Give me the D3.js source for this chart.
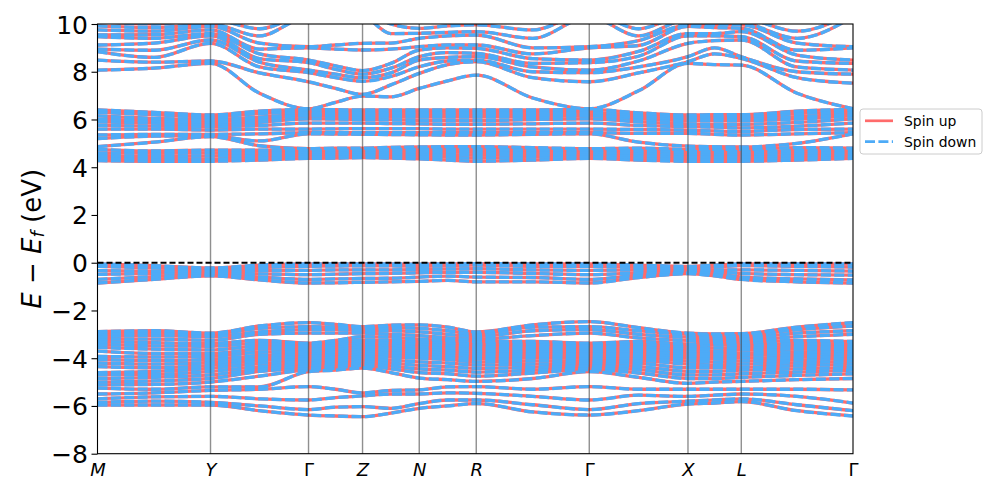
<!DOCTYPE html>
<html><head><meta charset="utf-8">
<script src="https://cdn.jsdelivr.net/npm/d3@7"></script>
<style>body{margin:0;background:#fff;} text{font-family:"DejaVu Sans",sans-serif;}</style>
</head><body>
<script>
// ---- data ----
const kLabels = ["M","Y","Γ","Z","N","R","Γ","X","L","Γ"];
const kDist = [0, 1.130, 2.110, 2.650, 3.217, 3.787, 4.917, 5.904, 6.437, 7.554];
// sampled k positions: high-symmetry points and segment midpoints
const kSample = [0, 0.565, 1.130, 1.620, 2.110, 2.380, 2.650, 2.933, 3.217, 3.502, 3.787, 4.352, 4.917, 5.410, 5.904, 6.170, 6.437, 6.995, 7.554];
const yTicks = [-8,-6,-4,-2,0,2,4,6,8,10];
const seriesNames = ["Spin up","Spin down"];

// energies (eV) at each sampled k, lowest band first
const valenceDeepE = [
 [-5.96,-5.85,-5.7,-5.5,-5.25,-5.12,-5.0,-4.85,-4.7,-4.6,-4.35,-4.2,-4.05,-3.92,-3.7,-3.55,-3.42,-3.3,-3.2,-3.1,-3.0,-2.89],
 [-5.96,-5.8,-5.62,-5.45,-5.3,-5.1,-4.95,-4.8,-4.68,-4.55,-4.4,-4.25,-4.1,-3.95,-3.8,-3.62,-3.48,-3.35,-3.2,-3.05,-2.95,-2.85],
 [-5.96,-5.85,-5.6,-5.35,-5.2,-5.0,-4.85,-4.7,-4.55,-4.42,-4.3,-4.18,-4.05,-3.92,-3.8,-3.65,-3.5,-3.38,-3.25,-3.1,-3.0,-2.95],
 [-6.2,-6.0,-5.7,-5.3,-5.2,-4.75,-4.55,-4.45,-4.35,-4.22,-4.1,-4.0,-3.88,-3.75,-3.62,-3.5,-3.38,-3.25,-3.0,-2.9,-2.75,-2.65],
 [-6.38,-6.15,-5.75,-5.19,-4.56,-4.48,-4.4,-4.3,-4.2,-4.1,-4.0,-3.9,-3.8,-3.7,-3.6,-3.5,-3.42,-3.37,-2.95,-2.8,-2.68,-2.51],
 [-6.42,-6.05,-5.65,-5.3,-4.5,-4.42,-4.32,-4.22,-4.12,-4.02,-3.92,-3.82,-3.72,-3.62,-3.52,-3.42,-3.32,-3.25,-2.95,-2.8,-2.7,-2.58],
 [-6.45,-6.03,-5.58,-5.45,-4.41,-4.3,-4.2,-4.1,-4.0,-3.9,-3.8,-3.7,-3.6,-3.5,-3.4,-3.32,-3.24,-3.1,-2.95,-2.85,-2.75,-2.68],
 [-6.3,-6.1,-5.5,-5.35,-4.6,-4.45,-4.32,-4.2,-4.08,-3.95,-3.85,-3.75,-3.65,-3.55,-3.45,-3.35,-3.25,-3.12,-3.0,-2.85,-2.72,-2.62],
 [-6.1,-5.9,-5.5,-5.33,-4.83,-4.6,-4.45,-4.3,-4.15,-4.0,-3.9,-3.8,-3.7,-3.6,-3.5,-3.4,-3.3,-3.2,-3.05,-2.9,-2.75,-2.6],
 [-6.0,-5.75,-5.45,-5.2,-4.9,-4.65,-4.5,-4.35,-4.2,-4.05,-3.95,-3.85,-3.75,-3.65,-3.55,-3.45,-3.35,-3.25,-3.15,-3.0,-2.85,-2.7],
 [-5.9,-5.75,-5.47,-5.19,-4.97,-4.75,-4.58,-4.42,-4.28,-4.15,-4.02,-3.9,-3.8,-3.7,-3.6,-3.5,-3.4,-3.3,-3.2,-3.1,-3.0,-2.9],
 [-6.25,-5.95,-5.6,-5.3,-4.85,-4.62,-4.5,-4.38,-4.25,-4.12,-4.0,-3.9,-3.8,-3.7,-3.6,-3.5,-3.4,-3.3,-3.05,-2.85,-2.7,-2.6],
 [-6.38,-6.15,-5.75,-5.19,-4.56,-4.48,-4.4,-4.3,-4.2,-4.1,-4.0,-3.9,-3.8,-3.7,-3.6,-3.5,-3.42,-3.37,-2.95,-2.8,-2.68,-2.47],
 [-6.2,-5.9,-5.55,-5.3,-4.8,-4.62,-4.48,-4.35,-4.22,-4.1,-4.0,-3.9,-3.8,-3.7,-3.6,-3.5,-3.4,-3.3,-3.15,-3.0,-2.85,-2.72],
 [-5.92,-5.8,-5.6,-5.3,-5.05,-4.85,-4.7,-4.55,-4.4,-4.25,-4.12,-4.0,-3.9,-3.8,-3.7,-3.6,-3.5,-3.4,-3.25,-3.12,-3.0,-2.95],
 [-5.88,-5.75,-5.55,-5.3,-5.0,-4.85,-4.7,-4.55,-4.4,-4.28,-4.15,-4.02,-3.9,-3.8,-3.7,-3.58,-3.45,-3.35,-3.25,-3.15,-3.05,-2.98],
 [-5.82,-5.7,-5.5,-5.3,-4.97,-4.8,-4.65,-4.5,-4.38,-4.25,-4.12,-4.0,-3.88,-3.78,-3.65,-3.55,-3.45,-3.35,-3.25,-3.15,-3.05,-2.97],
 [-6.2,-5.95,-5.6,-5.3,-4.9,-4.72,-4.58,-4.45,-4.32,-4.2,-4.08,-3.96,-3.85,-3.74,-3.62,-3.5,-3.38,-3.25,-3.1,-2.95,-2.8,-2.7],
 [-6.42,-6.2,-5.88,-5.33,-4.85,-4.65,-4.5,-4.38,-4.25,-4.12,-4.0,-3.9,-3.8,-3.7,-3.6,-3.5,-3.4,-3.3,-3.0,-2.85,-2.65,-2.51]
];
const valenceTopE = [
 [-0.85,-0.7,-0.49,-0.33,-0.15,-0.05],
 [-0.7,-0.58,-0.45,-0.35,-0.22,-0.12],
 [-0.55,-0.48,-0.4,-0.33,-0.27,-0.22],
 [-0.72,-0.6,-0.47,-0.33,-0.2,-0.1],
 [-0.85,-0.7,-0.5,-0.32,-0.15,-0.05],
 [-0.84,-0.68,-0.48,-0.3,-0.14,-0.05],
 [-0.82,-0.66,-0.46,-0.3,-0.13,-0.05],
 [-0.8,-0.65,-0.45,-0.3,-0.13,-0.05],
 [-0.78,-0.6,-0.42,-0.28,-0.15,-0.06],
 [-0.74,-0.56,-0.4,-0.26,-0.12,-0.05],
 [-0.8,-0.6,-0.4,-0.25,-0.1,-0.04],
 [-0.8,-0.62,-0.45,-0.3,-0.15,-0.05],
 [-0.85,-0.7,-0.5,-0.32,-0.15,-0.05],
 [-0.62,-0.52,-0.42,-0.3,-0.2,-0.1],
 [-0.46,-0.42,-0.36,-0.3,-0.22,-0.15],
 [-0.55,-0.47,-0.38,-0.3,-0.18,-0.1],
 [-0.7,-0.6,-0.45,-0.3,-0.12,-0.05],
 [-0.8,-0.68,-0.5,-0.32,-0.15,-0.05],
 [-0.85,-0.72,-0.52,-0.35,-0.18,-0.05]
];
const conductionE = [
 [4.28,4.38,4.5,4.6,4.75,4.86,5.2,5.35,5.6,5.75,5.9,6.0,6.15,6.3,6.4],
 [4.25,4.35,4.45,4.58,4.68,5.05,5.3,5.38,5.6,5.72,5.85,5.95,6.05,6.2,6.3],
 [4.25,4.35,4.48,4.6,4.72,5.28,5.32,5.38,5.56,5.7,5.8,5.9,6.0,6.1,6.19],
 [4.3,4.4,4.5,4.62,4.72,4.9,5.1,5.4,5.6,5.75,5.88,6.0,6.1,6.25,6.35],
 [4.37,4.45,4.55,4.63,4.72,4.78,5.4,5.45,5.6,5.85,6.03,6.15,6.2,6.3,6.42],
 [4.38,4.47,4.56,4.64,4.72,4.8,5.39,5.45,5.61,5.85,6.02,6.13,6.2,6.3,6.41],
 [4.4,4.5,4.58,4.65,4.72,4.8,5.38,5.45,5.62,5.85,6.0,6.12,6.2,6.3,6.4],
 [4.38,4.48,4.57,4.66,4.75,4.83,5.37,5.45,5.62,5.83,5.98,6.1,6.2,6.3,6.4],
 [4.35,4.45,4.55,4.65,4.75,4.85,5.36,5.45,5.62,5.82,5.96,6.1,6.2,6.3,6.4],
 [4.3,4.42,4.53,4.63,4.75,4.86,5.35,5.45,5.6,5.8,5.95,6.1,6.2,6.3,6.4],
 [4.25,4.38,4.5,4.62,4.75,4.86,5.35,5.45,5.6,5.8,5.95,6.1,6.2,6.3,6.4],
 [4.3,4.42,4.52,4.62,4.72,4.82,5.38,5.45,5.6,5.82,6.0,6.12,6.2,6.3,6.4],
 [4.37,4.45,4.55,4.63,4.72,4.78,5.4,5.45,5.6,5.85,6.03,6.15,6.2,6.3,6.42],
 [4.3,4.4,4.5,4.6,4.7,4.8,5.05,5.42,5.58,5.75,5.9,6.02,6.1,6.18,6.28],
 [4.25,4.35,4.45,4.55,4.65,4.75,4.88,5.42,5.55,5.7,5.82,5.95,6.05,6.12,6.19],
 [4.25,4.35,4.45,4.55,4.65,4.75,4.86,5.38,5.52,5.68,5.8,5.95,6.05,6.12,6.2],
 [4.25,4.35,4.45,4.55,4.65,4.75,4.85,5.35,5.5,5.65,5.8,5.95,6.05,6.12,6.2],
 [4.3,4.4,4.5,4.6,4.7,4.82,5.0,5.4,5.58,5.72,5.88,6.02,6.12,6.25,6.35],
 [4.37,4.45,4.55,4.63,4.72,4.8,5.4,5.45,5.6,5.85,6.03,6.15,6.22,6.32,6.42]
];
const upperE = [
 [8.07,8.49,8.84,8.95,9.12,9.47,9.54,9.75,9.92,10.1,10.3,10.5],
 [8.15,8.4,8.6,8.9,9.2,9.4,9.55,9.7,9.85,10.0,10.2,10.4],
 [8.35,8.45,9.19,9.33,9.5,9.6,9.75,9.9,10.0,10.2,10.4,10.6],
 [7.1,7.95,8.2,8.4,8.55,8.75,8.95,9.2,9.5,9.8,10.1,10.3],
 [6.45,7.58,7.96,8.07,8.38,8.49,9.0,9.05,10.3,10.5,10.7,10.9],
 [6.72,7.3,7.75,7.9,8.1,8.25,8.95,9.12,10.3,10.6,10.8,11.0],
 [6.98,7.05,7.6,7.75,7.9,8.05,8.91,9.19,10.3,10.6,10.8,11.0],
 [6.95,7.45,7.8,7.95,8.15,8.35,8.95,9.2,9.6,10.0,10.4,10.7],
 [7.3,7.93,8.21,8.49,8.63,8.91,9.05,9.4,9.61,9.82,10.2,10.5],
 [7.62,8.3,8.45,8.6,8.8,9.0,9.12,9.5,9.65,9.92,10.3,10.6],
 [7.86,8.42,8.49,8.63,8.77,8.98,9.12,9.54,9.68,9.96,10.3,10.6],
 [6.9,7.75,8.0,8.2,8.35,8.55,8.75,9.0,9.4,9.75,10.2,10.5],
 [6.45,7.58,7.96,8.07,8.38,8.49,9.0,9.05,10.3,10.5,10.7,10.9],
 [7.2,7.95,8.2,8.45,8.65,8.85,9.1,9.3,9.5,9.8,10.2,10.5],
 [8.35,8.42,8.63,9.19,9.5,9.6,9.9,9.96,10.2,10.4,10.6,10.8],
 [8.3,8.75,9.0,9.3,9.5,9.6,9.85,9.96,10.2,10.4,10.6,10.8],
 [8.28,8.56,8.63,9.33,9.47,9.68,9.82,9.96,10.1,10.3,10.5,10.7],
 [7.1,7.75,8.0,8.2,8.45,8.7,8.9,9.2,9.4,9.7,10.1,10.4],
 [6.45,7.52,7.9,8.07,8.35,8.49,9.0,9.05,10.3,10.5,10.7,10.9]
];

// ---- drawing ----
const W = 997, H = 498;
const L = 97.5, R = 853, T = 24, B = 453.7;
const LW = 3.3, DASH = "10,3.4";
const x = d3.scaleLinear().domain([kDist[0], kDist[kDist.length-1]]).range([L, R]);
const y = d3.scaleLinear().domain([-8, 10]).range([B, T]);

const svg = d3.select("body").append("svg").attr("width", W).attr("height", H);
svg.append("defs").append("clipPath").attr("id","clip")
  .append("rect").attr("x", L).attr("y", T).attr("width", R-L).attr("height", B-T);

const bands = [valenceDeepE, valenceTopE, conductionE, upperE].flatMap(g => d3.transpose(g));
const line = d3.line().x((d,i) => x(kSample[i])).y(d => y(d)).curve(d3.curveMonotoneX);

const plot = svg.append("g").attr("clip-path","url(#clip)");
plot.selectAll("path.up").data(bands).join("path").attr("class","up")
  .attr("d", line).attr("fill","none").attr("stroke","#ff6b6b").attr("stroke-width",LW);
plot.selectAll("path.dn").data(bands).join("path").attr("class","dn")
  .attr("d", line).attr("fill","none").attr("stroke","#4dabf7").attr("stroke-width",LW)
  .attr("stroke-dasharray",DASH);

// high-symmetry vertical lines
svg.append("g").selectAll("line").data(kDist.slice(1,-1)).join("line")
  .attr("x1", d => x(d)).attr("x2", d => x(d)).attr("y1", T).attr("y2", B)
  .attr("stroke","#444").attr("stroke-opacity",0.6).attr("stroke-width",1.4);

// Fermi level
svg.append("line").attr("x1", L).attr("x2", R).attr("y1", y(0)).attr("y2", y(0))
  .attr("stroke","#000").attr("stroke-width",2).attr("stroke-dasharray","6,3");

// frame
svg.append("rect").attr("x", L).attr("y", T).attr("width", R-L).attr("height", B-T)
  .attr("fill","none").attr("stroke","#000").attr("stroke-width",1.1);

// y axis
const yAxis = d3.axisLeft(y).tickValues(yTicks).tickSize(6).tickPadding(3.5)
  .tickFormat(d => (d < 0 ? "\u2212" + Math.abs(d) : String(d)));
const ya = svg.append("g").attr("transform", `translate(${L},0)`).call(yAxis);
ya.select(".domain").remove();
ya.selectAll(".tick line").attr("stroke","#000").attr("stroke-width",1.1);
ya.selectAll(".tick text").attr("font-size", 25).attr("fill","#000")
  .attr("font-family","DejaVu Sans").attr("dy","0.36em");

// x axis labels
const xAxis = d3.axisBottom(x).tickValues(kDist).tickSize(0).tickPadding(10)
  .tickFormat((d,i) => kLabels[i]);
const xa = svg.append("g").attr("transform", `translate(0,${B})`).call(xAxis);
xa.select(".domain").remove();
xa.selectAll(".tick text").attr("font-size", 18).attr("fill","#000")
  .attr("font-family","DejaVu Sans")
  .attr("font-style", (d,i) => kLabels[i] === "Γ" ? "normal" : "italic")
  .attr("dy","0.7em");

// y label
const yl = svg.append("text").attr("transform", `translate(32,${(T+B)/2}) rotate(-90)`)
  .attr("text-anchor","middle").attr("dominant-baseline","central")
  .attr("font-size", 26).attr("fill","#000");
yl.append("tspan").attr("font-style","italic").text("E");
yl.append("tspan").text(" \u2212 ");
yl.append("tspan").attr("font-style","italic").text("E");
yl.append("tspan").attr("font-style","italic").attr("font-size",18).attr("dy",5).text("f");
yl.append("tspan").attr("dy",-5).text(" (eV)");

// legend
const lg = svg.append("g");
lg.append("rect").attr("x",860).attr("y",109).attr("width",122).attr("height",45).attr("rx",3)
  .attr("fill","#fff").attr("fill-opacity",0.8).attr("stroke","#cccccc").attr("stroke-width",1);
const lgItems = [{c:"#ff6b6b", dash:null}, {c:"#4dabf7", dash:DASH}];
lgItems.forEach((it,i) => {
  const yy = 120.8 + i*20.8;
  const ln = lg.append("line").attr("x1",865).attr("x2",893).attr("y1",yy).attr("y2",yy)
    .attr("stroke",it.c).attr("stroke-width",2.7);
  if (it.dash) ln.attr("stroke-dasharray", it.dash);
  lg.append("text").attr("x",904).attr("y",yy+5).attr("font-size",13.9).attr("fill","#000").text(seriesNames[i]);
});
</script>
</body></html>
